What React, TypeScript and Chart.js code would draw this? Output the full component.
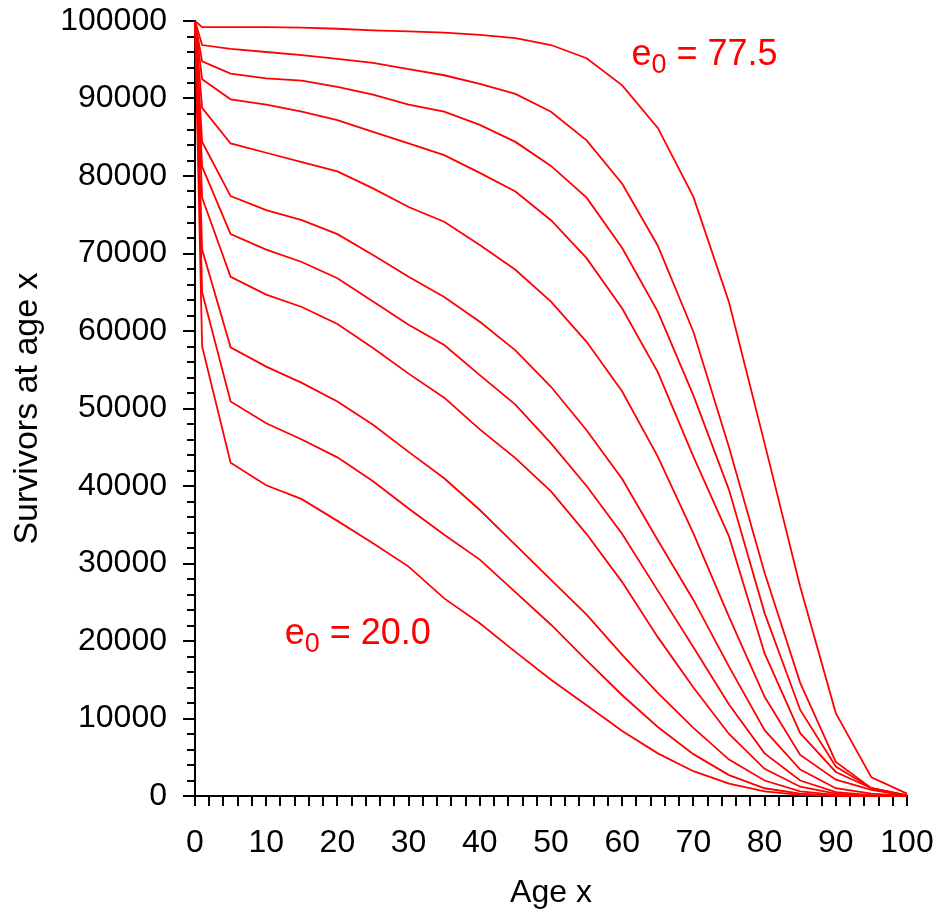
import React, { useEffect, useRef } from 'react';
import { Chart, registerables } from 'chart.js';

Chart.register(...registerables);

// ---- data ----
const AGES = [0, 1, 5, 10, 15, 20, 25, 30, 35, 40, 45, 50, 55, 60, 65, 70, 75, 80, 85, 90, 95, 100];

const LX_1 = [100000, 99200, 99200, 99200, 99150, 99000, 98800, 98650, 98500, 98200, 97800, 96900, 95200, 91700, 86200, 77300, 63700, 45500, 27000, 10700, 2400, 300];
const LX_2 = [100000, 96900, 96400, 96000, 95600, 95100, 94600, 93800, 93000, 91900, 90600, 88300, 84600, 79000, 71000, 59900, 45000, 28800, 14600, 4400, 1000, 100];
const LX_3 = [100000, 94800, 93200, 92600, 92300, 91500, 90500, 89200, 88300, 86600, 84400, 81300, 77200, 70700, 62500, 51700, 39500, 23600, 11100, 3800, 1000, 60];
const LX_4 = [100000, 92500, 89900, 89200, 88300, 87200, 85700, 84200, 82700, 80400, 78000, 74300, 69400, 62900, 54700, 43800, 33500, 18400, 8100, 3100, 1000, 40];
const LX_5 = [100000, 88800, 84200, 83000, 81800, 80600, 78400, 76000, 74100, 71100, 67900, 63800, 58600, 52200, 43800, 33900, 23100, 12800, 5300, 2100, 800, 30];
const LX_6 = [100000, 84400, 77400, 75600, 74300, 72500, 69800, 67000, 64400, 61200, 57500, 52800, 47200, 40900, 33000, 25300, 16700, 8500, 3400, 1000, 300, 20];
const LX_7 = [100000, 81200, 72500, 70500, 68900, 66800, 63800, 60800, 58200, 54300, 50500, 45500, 40000, 33800, 26500, 19200, 11800, 5500, 2000, 500, 100, 10];
const LX_8 = [100000, 77200, 67000, 64700, 63100, 60900, 57800, 54500, 51400, 47300, 43600, 39300, 33800, 27600, 20500, 14000, 8000, 3500, 1200, 300, 50, 0];
const LX_9 = [100000, 70500, 57900, 55400, 53300, 50900, 47900, 44400, 41000, 36900, 32400, 27900, 23400, 18200, 13300, 8800, 4700, 2000, 600, 150, 20, 0];
const LX_10 = [100000, 65000, 50900, 48100, 46000, 43700, 40600, 37100, 33700, 30500, 26300, 22100, 17500, 13000, 8900, 5400, 2700, 1000, 300, 60, 10, 0];
const LX_11 = [100000, 58000, 43000, 40100, 38300, 35500, 32600, 29600, 25500, 22300, 18600, 15000, 11700, 8400, 5500, 3200, 1600, 600, 150, 30, 5, 0];

const SERIES = [LX_1, LX_2, LX_3, LX_4, LX_5, LX_6, LX_7, LX_8, LX_9, LX_10, LX_11];

const X_MIN = 0;
const X_MAX = 100;
const X_LABEL_STEP = 10;
const X_MINOR_STEP = 2;
const Y_MIN = 0;
const Y_MAX = 100000;
const Y_LABEL_STEP = 10000;
const Y_MINOR_STEP = 2000;

const X_TITLE = 'Age x';
const Y_TITLE = 'Survivors at age x';

// annotation labels: [age, survivors, e0 text]
const LABEL_HIGH = { age: 61.3, lx: 94300, text: '77.5' };
const LABEL_LOW = { age: 12.6, lx: 19600, text: '20.0' };

const FONT = '"Liberation Sans", Arial, Helvetica, sans-serif';
const RED = '#ff0000';
const AXIS_FONT_SIZE = 32;
const Y_TITLE_FONT_SIZE = 34;

const axisPlugin = {
  id: 'axisTicksAndLabels',
  beforeDatasetsDraw(chart: any) {
    const { ctx, chartArea } = chart;
    const xs = chart.scales.x;
    const ys = chart.scales.y;
    ctx.save();
    ctx.strokeStyle = '#000';
    ctx.lineWidth = 2;
    ctx.beginPath();
    for (let v = X_MIN; v <= X_MAX + 1e-9; v += X_MINOR_STEP) {
      const px = Math.round(xs.getPixelForValue(v));
      ctx.moveTo(px, chartArea.bottom);
      ctx.lineTo(px, chartArea.bottom + 10);
    }
    for (let v = Y_MIN; v <= Y_MAX + 1e-9; v += Y_MINOR_STEP) {
      const py = Math.round(ys.getPixelForValue(v));
      const len = v % Y_LABEL_STEP === 0 ? 12 : 8;
      ctx.moveTo(chartArea.left - len, py);
      ctx.lineTo(chartArea.left, py);
    }
    ctx.stroke();
    ctx.restore();
  },
  afterDatasetsDraw(chart: any) {
    const { ctx } = chart;
    const xs = chart.scales.x;
    const ys = chart.scales.y;
    const draw = (lab: { age: number; lx: number; text: string }) => {
      const x = xs.getPixelForValue(lab.age);
      const y = ys.getPixelForValue(lab.lx);
      ctx.save();
      ctx.fillStyle = RED;
      ctx.textAlign = 'left';
      ctx.textBaseline = 'alphabetic';
      ctx.font = `36px ${FONT}`;
      ctx.fillText('e', x, y);
      let w = ctx.measureText('e').width;
      ctx.font = `27px ${FONT}`;
      ctx.fillText('0', x + w, y + 8);
      w += ctx.measureText('0').width;
      ctx.font = `36px ${FONT}`;
      ctx.fillText(' = ' + lab.text, x + w, y);
      ctx.restore();
    };
    draw(LABEL_HIGH);
    draw(LABEL_LOW);
  },
};

export default function App() {
  const canvasRef = useRef<HTMLCanvasElement | null>(null);

  useEffect(() => {
    const canvas = canvasRef.current;
    if (!canvas) return;
    const chart = new Chart(canvas, {
      type: 'line',
      data: {
        datasets: SERIES.map((s, i) => ({
          label: 'curve ' + (i + 1),
          data: AGES.map((a, j) => ({ x: a, y: s[j] })),
          borderColor: RED,
          backgroundColor: RED,
          borderWidth: 1.8,
          pointRadius: 0,
          tension: 0,
          fill: false,
          clip: false,
        })),
      },
      options: {
        responsive: false,
        maintainAspectRatio: false,
        animation: false,
        events: [],
        layout: { padding: { top: 21, right: 30, left: 0, bottom: 0 } },
        plugins: {
          legend: { display: false },
          tooltip: { enabled: false },
          title: { display: false },
        },
        scales: {
          x: {
            type: 'linear',
            min: X_MIN,
            max: X_MAX,
            grid: { display: false, drawTicks: false },
            border: { display: true, color: '#000', width: 2 },
            ticks: {
              stepSize: X_LABEL_STEP,
              autoSkip: false,
              maxRotation: 0,
              padding: 28,
              color: '#000',
              font: { family: FONT, size: AXIS_FONT_SIZE },
              callback: (v: any) => String(v),
            },
            title: {
              display: true,
              text: X_TITLE,
              color: '#000',
              font: { family: FONT, size: AXIS_FONT_SIZE },
              padding: { top: 0, bottom: 1 },
            },
            afterFit: (scale: any) => {
              scale.height = 117;
              scale.paddingLeft = 0;
              scale.paddingRight = 0;
            },
          },
          y: {
            type: 'linear',
            min: Y_MIN,
            max: Y_MAX,
            grid: { display: false, drawTicks: false },
            border: { display: true, color: '#000', width: 2 },
            ticks: {
              stepSize: Y_LABEL_STEP,
              autoSkip: false,
              padding: 28,
              color: '#000',
              font: { family: FONT, size: AXIS_FONT_SIZE },
              callback: (v: any) => String(v),
            },
            title: {
              display: true,
              text: Y_TITLE,
              color: '#000',
              font: { family: FONT, size: Y_TITLE_FONT_SIZE },
              padding: { top: 7, bottom: 0 },
            },
            afterFit: (scale: any) => {
              scale.width = 195;
              scale.paddingTop = 0;
              scale.paddingBottom = 0;
            },
          },
        },
      },
      plugins: [axisPlugin],
    });
    return () => chart.destroy();
  }, []);

  return (
    <div style={{ position: 'absolute', left: 0, top: 0, width: 937, height: 913, background: '#fff' }}>
      <canvas ref={canvasRef} width={937} height={913} style={{ display: 'block' }} />
    </div>
  );
}
